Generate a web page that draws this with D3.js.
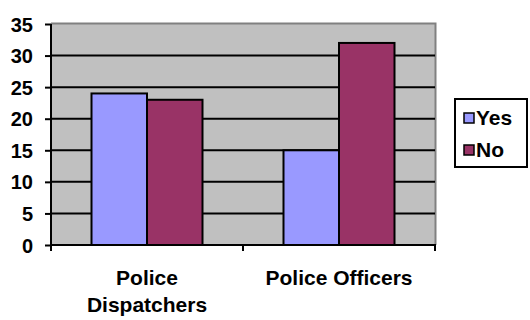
<!DOCTYPE html>
<html>
<head>
<meta charset="utf-8">
<script src="https://cdn.jsdelivr.net/npm/d3@7"></script>
<style>
  body { margin: 0; background: #fff; }
  text { font-family: "Liberation Sans", Arial, sans-serif; font-weight: bold; fill: #000; }
</style>
</head>
<body>
<div id="chart"></div>
<script>
var categories = [["Police", "Dispatchers"], ["Police Officers"]];
var seriesNames = ["Yes", "No"];
var yesValues = [24, 15];
var noValues = [23, 32];
var yTicks = [0, 5, 10, 15, 20, 25, 30, 35];
var colors = ["#9999ff", "#993366"];

var width = 530, height = 320;
var plotLeft = 51, plotRight = 435, plotTop = 24, plotBottom = 245;

var svg = d3.select("#chart").append("svg")
    .attr("width", width)
    .attr("height", height);

var catKeys = categories.map(function (c) { return c.join(" "); });

var x = d3.scaleBand()
    .domain(catKeys)
    .range([plotLeft, plotRight]);

var xInner = d3.scaleBand()
    .domain(seriesNames)
    .range([0, 111]);

var y = d3.scaleLinear()
    .domain([0, 35])
    .range([plotBottom, plotTop]);

// plot background
svg.append("rect")
    .attr("x", plotLeft).attr("y", plotTop)
    .attr("width", plotRight - plotLeft).attr("height", plotBottom - plotTop)
    .attr("fill", "#c0c0c0");

// gray frame on top / right
svg.append("path")
    .attr("d", "M" + plotLeft + "," + (plotTop - 0.5) + "H" + (plotRight + 0.5) + "V" + plotBottom)
    .attr("fill", "none")
    .attr("stroke", "#808080")
    .attr("stroke-width", 2);

// gridlines
svg.append("g")
    .selectAll("line")
    .data(yTicks.filter(function (t) { return t > 0 && t < 35; }))
    .enter().append("line")
    .attr("x1", plotLeft).attr("x2", plotRight)
    .attr("y1", function (d) { return y(d); })
    .attr("y2", function (d) { return y(d); })
    .attr("stroke", "#000")
    .attr("stroke-width", 2);

// bars
var rows = catKeys.map(function (k, i) {
    return { cat: k, values: [yesValues[i], noValues[i]] };
});

var groups = svg.append("g").selectAll("g")
    .data(rows)
    .enter().append("g")
    .attr("transform", function (d) {
        return "translate(" + (x(d.cat) + (x.bandwidth() - xInner.range()[1]) / 2) + ",0)";
    });

groups.selectAll("rect")
    .data(function (d) {
        return d.values.map(function (v, j) { return { s: seriesNames[j], v: v, j: j }; });
    })
    .enter().append("rect")
    .attr("x", function (d) { return xInner(d.s); })
    .attr("y", function (d) { return y(d.v); })
    .attr("width", xInner.bandwidth())
    .attr("height", function (d) { return y(0) - y(d.v); })
    .attr("fill", function (d) { return colors[d.j]; })
    .attr("stroke", "#000")
    .attr("stroke-width", 2);

// y axis
var yAxis = d3.axisLeft(y)
    .tickValues(yTicks)
    .tickSize(6)
    .tickPadding(12);

var gy = svg.append("g")
    .attr("transform", "translate(" + plotLeft + ",0)")
    .call(yAxis);
gy.select(".domain").attr("stroke-width", 2).attr("d", "M0," + (plotBottom + 6) + "V" + plotTop);
gy.selectAll(".tick line").attr("stroke-width", 2);
gy.selectAll(".tick text")
    .style("font-family", "'Liberation Sans', Arial, sans-serif")
    .style("font-size", "20px")
    .style("font-weight", "bold")
    .attr("dy", "0.35em");

// x axis
var gx = svg.append("g")
    .attr("transform", "translate(0," + plotBottom + ")");
gx.append("line")
    .attr("x1", plotLeft - 1).attr("x2", plotRight + 1)
    .attr("y1", 0).attr("y2", 0)
    .attr("stroke", "#000").attr("stroke-width", 2);
var tickPos = catKeys.map(function (k) { return x(k); }).concat([plotRight]);
gx.selectAll(".xt")
    .data(tickPos)
    .enter().append("line")
    .attr("x1", function (d) { return d; })
    .attr("x2", function (d) { return d; })
    .attr("y1", 0).attr("y2", 6)
    .attr("stroke", "#000").attr("stroke-width", 2);

var labels = svg.append("g").selectAll("text")
    .data(categories)
    .enter().append("text")
    .attr("text-anchor", "middle")
    .style("font-size", "21px")
    .attr("x", function (d, i) { return x(catKeys[i]) + x.bandwidth() / 2; })
    .attr("y", 285);
labels.selectAll("tspan")
    .data(function (d) { return d; })
    .enter().append("tspan")
    .attr("x", function () { return d3.select(this.parentNode).attr("x"); })
    .attr("dy", function (d, i) { return i === 0 ? 0 : 27; })
    .text(function (d) { return d; });

// legend
var legend = svg.append("g");
legend.append("rect")
    .attr("x", 455).attr("y", 99)
    .attr("width", 72).attr("height", 68)
    .attr("fill", "#fff")
    .attr("stroke", "#000")
    .attr("stroke-width", 2);
var items = legend.selectAll(".item")
    .data(seriesNames)
    .enter().append("g")
    .attr("transform", function (d, i) { return "translate(0," + (i * 32) + ")"; });
items.append("rect")
    .attr("x", 464).attr("y", 113)
    .attr("width", 10).attr("height", 10)
    .attr("fill", function (d, i) { return colors[i]; })
    .attr("stroke", "#000")
    .attr("stroke-width", 1.5);
items.append("text")
    .attr("x", 476).attr("y", 125)
    .style("font-size", "21px")
    .text(function (d) { return d; });
</script>
</body>
</html>
